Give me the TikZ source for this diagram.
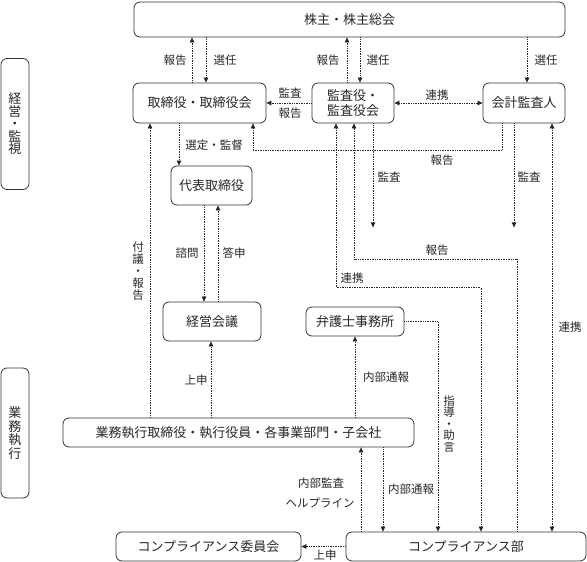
\documentclass[tikz,border=0pt]{standalone}
\usepackage{fontspec}
\setmainfont{Noto Sans CJK JP}
\usetikzlibrary{arrows.meta,calc}
\begin{document}
\begin{tikzpicture}[x=1pt,y=-1pt,
 box/.style={draw=black!80, line width=0.8pt, rounded corners=6pt, inner sep=0pt, text=black!85, font=\fontsize{13}{14}\selectfont},
 lab/.style={inner sep=0pt, text=black!85, font=\fontsize{11.5}{13}\selectfont},
 con/.style={draw=black!85, line width=0.7pt, dash pattern=on 0.8pt off 0.9pt},
 arr/.style={con, -{Triangle[length=5pt,width=4.5pt]}},
 barr/.style={con, {Triangle[length=5pt,width=4.5pt]}-{Triangle[length=5pt,width=4.5pt]}}
]
\useasboundingbox (0,0) rectangle (587,562);

% boxes
\node[box, minimum width=431pt, minimum height=35pt] (sh) at (349.5,19.5) {株主・株主総会};
\node[box, minimum width=28pt, minimum height=131pt, align=center, font=\fontsize{13}{12.5}\selectfont] (side1) at (15,124) {経\\営\\・\\監\\視};
\node[box, minimum width=133pt, minimum height=40pt] (tori) at (199.5,103) {取締役・取締役会};
\node[box, minimum width=82pt, minimum height=40pt, align=center, font=\fontsize{13}{15}\selectfont] (kansa) at (353,103) {監査役・\\監査役会};
\node[box, minimum width=82pt, minimum height=40pt] (kaikei) at (524,103) {会計監査人};
\node[box, minimum width=81pt, minimum height=39pt] (daihyo) at (211.5,185.5) {代表取締役};
\node[box, minimum width=98pt, minimum height=39pt] (keiei) at (212,321.5) {経営会議};
\node[box, minimum width=98pt, minimum height=29pt] (bengo) at (355,321.5) {弁護士事務所};
\node[box, minimum width=28pt, minimum height=130pt, align=center, font=\fontsize{13}{13.5}\selectfont] (side2) at (15,433) {業\\務\\執\\行};
\node[box, minimum width=351pt, minimum height=29pt] (gyomu) at (238.5,432.5) {業務執行取締役・執行役員・各事業部門・子会社};
\node[box, minimum width=185pt, minimum height=29pt] (iinkai) at (208.5,546.5) {コンプライアンス委員会};
\node[box, minimum width=240pt, minimum height=29pt] (bu) at (466,546.5) {コンプライアンス部};

% connectors
\draw[arr] ([xshift=-7.5pt]tori.north) coordinate (a1) -- (a1 |- sh.south);
\draw[arr] ([xshift=6.5pt]tori.north |- sh.south) coordinate (a2) -- (a2 |- tori.north);
\draw[arr] ([xshift=-6pt]kansa.north) coordinate (a3) -- (a3 |- sh.south);
\draw[arr] ([xshift=7pt]kansa.north |- sh.south) coordinate (a4) -- (a4 |- kansa.north);
\draw[arr] ([xshift=3pt]kaikei.north |- sh.south) coordinate (a5) -- (a5 |- kaikei.north);
\draw[arr] (kansa.west) -- (tori.east);
\draw[barr] (kansa.east) -- (kaikei.west);
\draw[arr] ([xshift=-22pt]kaikei.south) -- ++(0,27) -| ([xshift=53.5pt]tori.south);
\draw[arr] ([xshift=-20.5pt]tori.south) coordinate (a6) -- (a6 |- daihyo.north);
\draw[arr] ([xshift=20pt]kansa.south) -- ++(0,104) coordinate (e1);
\draw[arr] ([xshift=-10pt]kaikei.south) -- ++(0,104) coordinate (e2);
\draw[barr] ([xshift=28pt]kaikei.south) coordinate (a7) -- (a7 |- bu.north);
\draw[arr] ([xshift=51pt]bu.north) -- ++(0,-272) -| ([xshift=1pt]kansa.south);
\draw[barr] ([xshift=-17pt]kansa.south) -- ++(0,164) -| ([xshift=15pt]bu.north);
\draw[arr] ([xshift=-7.5pt]daihyo.south) coordinate (a8) -- (a8 |- keiei.north);
\draw[arr] ([xshift=6.5pt]daihyo.south |- keiei.north) coordinate (a9) -- (a9 |- daihyo.south);
\draw[arr] ([xshift=-88.5pt]gyomu.north) coordinate (a10) -- (a10 |- tori.south);
\draw[arr] ([xshift=-27.5pt]gyomu.north) coordinate (a11) -- (a11 |- keiei.south);
\draw[arr] ([xshift=116.5pt]gyomu.north) coordinate (a12) -- (a12 |- bengo.south);
\draw[arr] (bengo.east) -| ([xshift=-28pt]bu.north);
\draw[arr] ([xshift=-105pt]bu.north) coordinate (a13) -- (a13 |- gyomu.south);
\draw[arr] ([xshift=-83pt]bu.north |- gyomu.south) coordinate (a14) -- (a14 |- bu.north);
\draw[arr] (bu.west) -- (bu.west -| iinkai.east);

% labels
\node[lab] (l1) at (175,60) {報告};
\node[lab] (l2) at (225,60) {選任};
\node[lab] (l3) at (328,60) {報告};
\node[lab] (l4) at (378,60) {選任};
\node[lab] (l5) at (546,60) {選任};
\node[lab] (l6) at (290,93) {監査};
\node[lab] (l7) at (290,113) {報告};
\node[lab] (l8) at (437,95) {連携};
\node[lab] (l9) at (442,160) {報告};
\node[lab] (l10) at (214,145) {選定・監督};
\node[lab] (l11) at (389,177) {監査};
\node[lab] (l12) at (529,177) {監査};
\node[lab] (l13) at (437,250) {報告};
\node[lab] (l14) at (352,278) {連携};
\node[lab] (l15) at (570,327) {連携};
\node[lab] (l16) at (187,253) {諮問};
\node[lab] (l17) at (234,253) {答申};
\node[lab, align=center, font=\fontsize{11.5}{12}\selectfont] (l18) at (138,271) {付\\議\\・\\報\\告};
\node[lab] (l19) at (196,380) {上申};
\node[lab] (l20) at (386,377) {内部通報};
\node[lab, align=center, font=\fontsize{11.5}{11.5}\selectfont] (l21) at (449,424) {指\\導\\・\\助\\言};
\node[lab] (l22) at (321,483) {内部監査};
\node[lab] (l23) at (320,503) {ヘルプライン};
\node[lab] (l24) at (411,489) {内部通報};
\node[lab] (l25) at (325,555) {上申};
\end{tikzpicture}
\end{document}
